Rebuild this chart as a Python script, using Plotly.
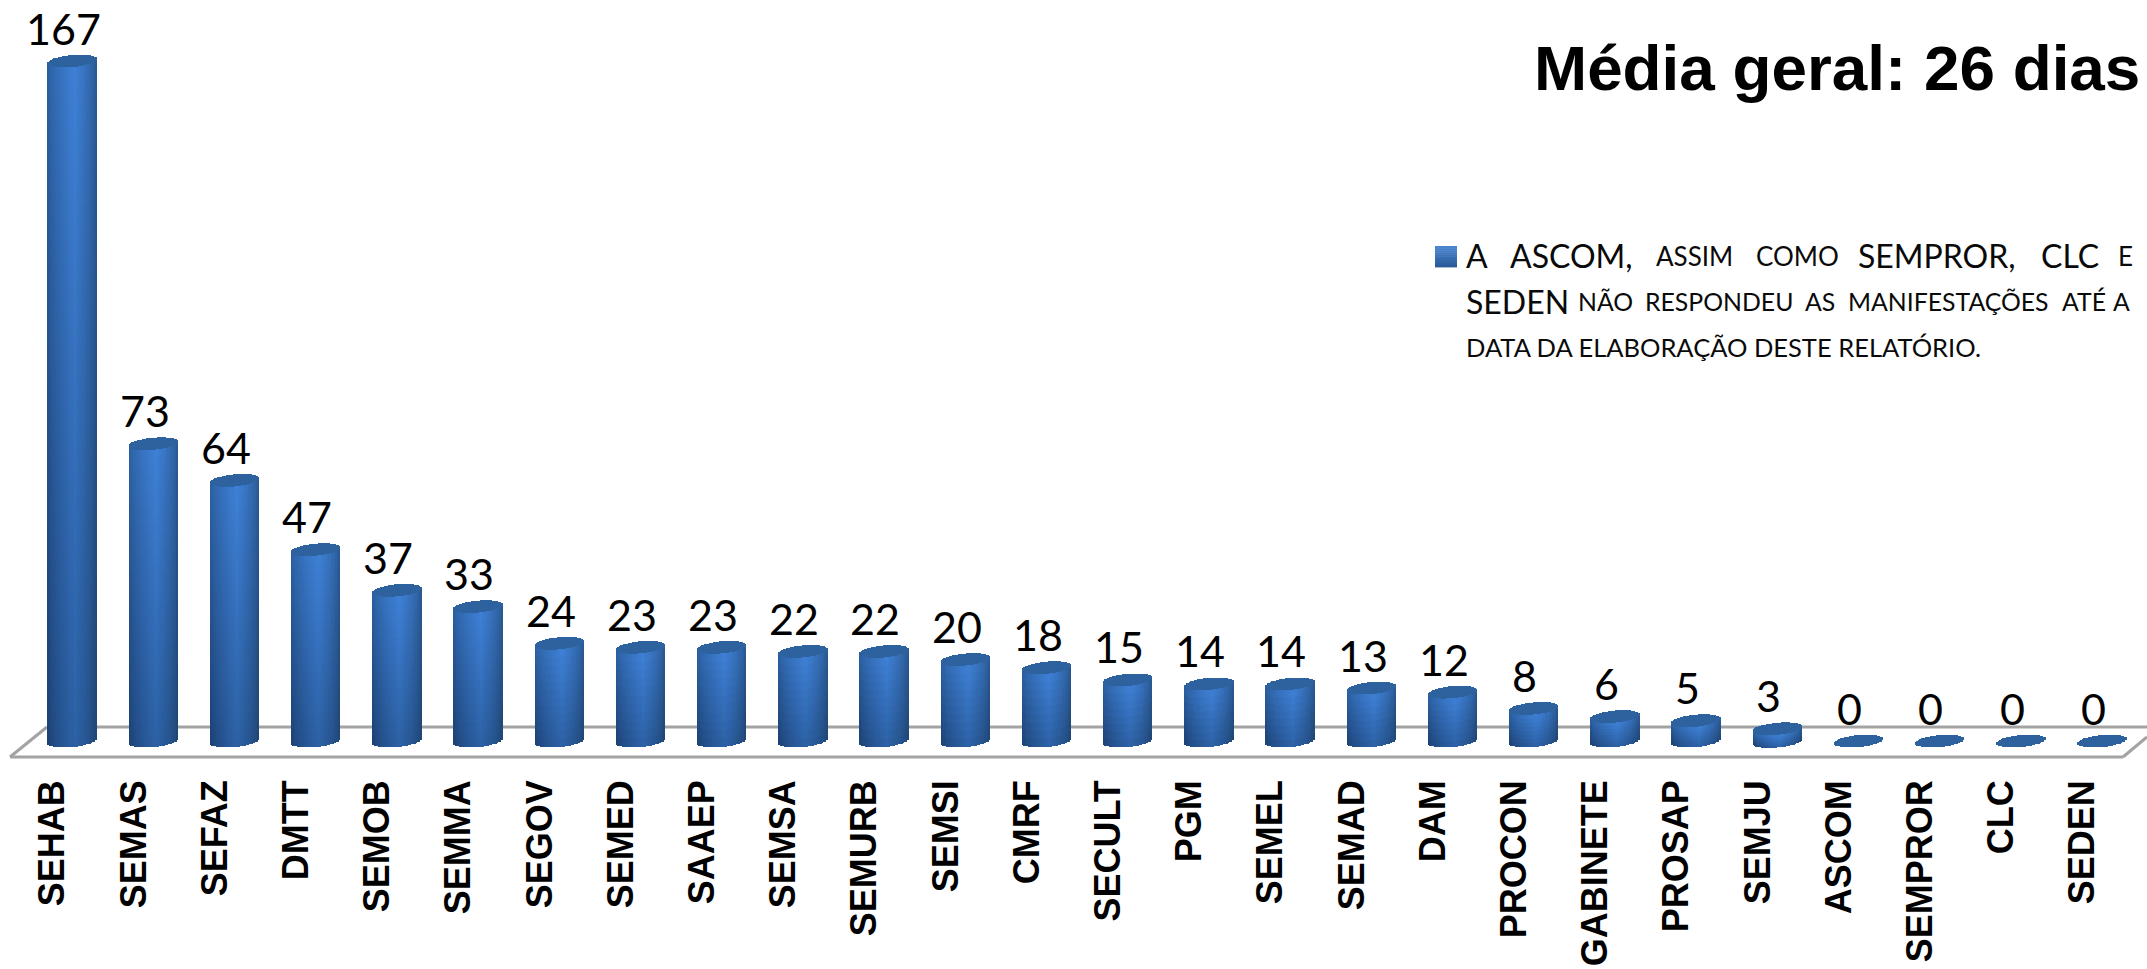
import math
import plotly.graph_objects as go

categories = ["SEHAB", "SEMAS", "SEFAZ", "DMTT", "SEMOB", "SEMMA", "SEGOV", "SEMED", "SAAEP",
              "SEMSA", "SEMURB", "SEMSI", "CMRF", "SECULT", "PGM", "SEMEL", "SEMAD", "DAM",
              "PROCON", "GABINETE", "PROSAP", "SEMJU", "ASCOM", "SEMPROR", "CLC", "SEDEN"]
values = [167, 73, 64, 47, 37, 33, 24, 23, 23, 22, 22, 20, 18, 15, 14, 14, 13, 12, 8, 6, 5, 3, 0, 0, 0, 0]

title_text = "Média geral: 26 dias"
BIG, SMALL, SMALL2 = 32, 26, 24.8
note_line1 = [("A", 1466, BIG), ("ASCOM,", 1510, BIG), ("ASSIM", 1656, SMALL), ("COMO", 1756, SMALL),
              ("SEMPROR,", 1858, BIG), ("CLC", 2041, BIG), ("E", 2118, SMALL)]
note_line2 = [("SEDEN", 1466, BIG), ("NÃO", 1578, SMALL2), ("RESPONDEU", 1645, SMALL2), ("AS", 1805, SMALL2),
              ("MANIFESTAÇÕES", 1848, SMALL2), ("ATÉ", 2062, SMALL2), ("A", 2113, SMALL2)]
note_line3 = [("DATA DA ELABORAÇÃO DESTE RELATÓRIO.", 1466, 25.5)]

W, H = 2147, 969
PLOT_H = 772
Y0_PX, Y167_PX = 741, 61
PX_PER_UNIT = (Y0_PX - Y167_PX) / 167
X0_PX, STEP_PX = 72.3, 81.2
BAR_W_PX = 49
ELL_B = 6.0
ELL_TILT = 2.2
N_STRIPES = 33


def lerp(a, b, t):
    return tuple(a[i] + (b[i] - a[i]) * t for i in range(3))


def rgb(c):
    return "rgb(%d,%d,%d)" % tuple(round(v) for v in c)


def stripe_color(u, t):
    # t: 0 at the foot of the cylinder, 1 at its top
    centre = lerp((44, 97, 165), (62, 128, 214), t)
    edge_l = lerp((27, 62, 112), (42, 92, 155), t)
    edge_r = lerp((30, 66, 110), (40, 84, 138), t)
    peak = 0.12
    if u < peak:
        s = (u + 1) / (peak + 1)
        return lerp(edge_l, centre, s ** 0.7)
    s = (1 - u) / (1 - peak)
    return lerp(edge_r, centre, s ** 0.6)


seg_x, seg_h, seg_b, seg_w, seg_o, seg_c = [], [], [], [], [], []
cap_x, cap_h, cap_b, cap_w, cap_o = [], [], [], [], []
stripe_w = (BAR_W_PX / STEP_PX) / N_STRIPES
for cat, v in zip(categories, values):
    for s in range(N_STRIPES):
        u = -1 + (2 * s + 1) / N_STRIPES
        off = -BAR_W_PX / STEP_PX / 2 + s * stripe_w
        half = ELL_B * math.sqrt(max(0, 1 - u * u)) / PX_PER_UNIT
        tilt = ELL_TILT * u / PX_PER_UNIT
        low0 = tilt - half
        K = max(8, int(v / 2)) if v > 0 else 0
        for k in range(K):
            seg_x.append(cat)
            seg_b.append(low0 + v * k / K)
            seg_h.append(v / K)
            seg_w.append(stripe_w)
            seg_o.append(off)
            seg_c.append(rgb(stripe_color(u, (k + 0.5) / K)))
        cap_x.append(cat)
        cap_b.append(v + tilt - half)
        cap_h.append(2 * half)
        cap_w.append(stripe_w)
        cap_o.append(off)

fig = go.Figure()
fig.add_trace(go.Bar(x=categories, y=values, width=0.4, marker=dict(color="#2f66aa", line=dict(width=0)),
                     hoverinfo="skip", name="dias"))
fig.add_trace(go.Bar(x=seg_x, y=seg_h, base=seg_b, width=seg_w, offset=seg_o,
                     marker=dict(color=seg_c, line=dict(width=0)), hoverinfo="skip"))
fig.add_trace(go.Bar(x=cap_x, y=cap_h, base=cap_b, width=cap_w, offset=cap_o,
                     marker=dict(color="#2d629f", line=dict(width=0)), hoverinfo="skip"))
# carrier for the shifted category axis that prints the labels
fig.add_trace(go.Scatter(x=categories, y=values, xaxis="x2", mode="markers", marker=dict(opacity=0, size=1),
                         hoverinfo="skip"))


def px(x):
    return x / W


def py(y):
    return (PLOT_H - y) / PLOT_H


annotations = []
for cat, v in zip(categories, values):
    annotations.append(dict(x=cat, y=v, xref="x", yref="y", text=str(v), showarrow=False,
                            xshift=-9, yshift=33, xanchor="center", yanchor="middle",
                            font=dict(family="Lato", size=43, color="#000000")))
annotations.append(dict(x=px(2142), y=py(68), xref="paper", yref="paper", text="<b>%s</b>" % title_text,
                        showarrow=False, xanchor="right", yanchor="middle",
                        font=dict(family="Liberation Sans", size=63.8, color="#000000")))
for line, ypix in ((note_line1, 256), (note_line2, 301), (note_line3, 347)):
    for word, xpix, size in line:
        annotations.append(dict(x=px(xpix), y=py(ypix), xref="paper", yref="paper", text=word, showarrow=False,
                                xanchor="left", yanchor="middle", xshift=-2,
                                font=dict(family="Lato", size=size, color="#0a0a0a")))

shapes = []
floor_col = "#a3a3a3"
for (x0, y0, x1, y1) in ((47, 727, 2147, 727), (10, 757, 2123, 757), (10, 757, 47, 727), (2123, 757, 2147, 737)):
    shapes.append(dict(type="line", xref="paper", yref="paper", x0=px(x0), y0=py(y0), x1=px(x1), y1=py(y1),
                       line=dict(color=floor_col, width=3), layer="below"))
KEY_STEPS = 10
for i in range(KEY_STEPS):
    c = lerp((74, 134, 208), (42, 90, 154), i / (KEY_STEPS - 1))
    y0 = 246 + i * 21 / KEY_STEPS
    shapes.append(dict(type="rect", xref="paper", yref="paper", x0=px(1435), x1=px(1457), y0=py(y0),
                       y1=py(y0 + 21 / KEY_STEPS + 0.4), fillcolor=rgb(c), line=dict(width=0)))

x_range = [-X0_PX / STEP_PX, (W - X0_PX) / STEP_PX]
LABEL_SHIFT = 19.5 / STEP_PX
fig.update_layout(
    width=W, height=H, autosize=False,
    margin=dict(l=0, r=0, t=0, b=H - PLOT_H, pad=0),
    paper_bgcolor="#ffffff", plot_bgcolor="rgba(0,0,0,0)",
    barmode="overlay", bargap=0, showlegend=False,
    annotations=annotations, shapes=shapes,
    xaxis=dict(type="category", categoryorder="array", categoryarray=categories, range=x_range,
               showticklabels=False, showgrid=False, zeroline=False, showline=False, ticks=""),
    xaxis2=dict(type="category", categoryorder="array", categoryarray=categories, overlaying="x", anchor="y",
                side="bottom", range=[x_range[0] + LABEL_SHIFT, x_range[1] + LABEL_SHIFT],
                tickmode="array", tickvals=categories, ticktext=categories, tickangle=-90,
                tickfont=dict(family="Liberation Sans", size=36, color="#000000", weight="bold"),
                showgrid=False, zeroline=False, showline=False, ticks="", ticklen=0),
    yaxis=dict(range=[-(PLOT_H - Y0_PX) / PX_PER_UNIT, Y0_PX / PX_PER_UNIT], visible=False,
               showgrid=False, zeroline=False),
)
fig.write_html("out.html", config=dict(displayModeBar=False, responsive=False),
               post_script="document.body.style.margin='0';document.documentElement.style.overflow='hidden';")
